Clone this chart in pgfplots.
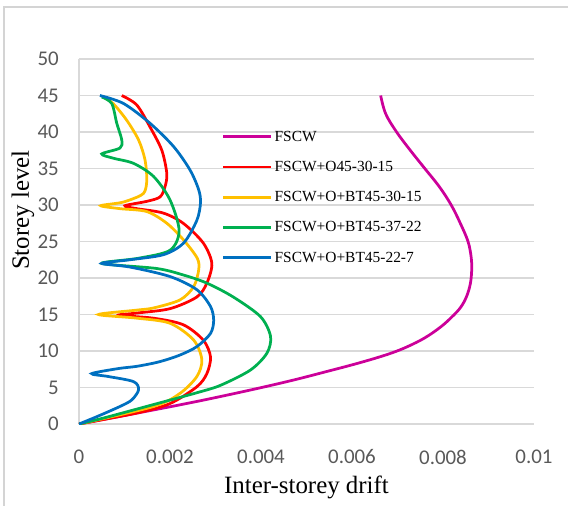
\documentclass[border=0pt]{standalone}
\usepackage{pgfplots}
\pgfplotsset{compat=1.18}
\usepackage{fontspec}
\setmainfont{Liberation Serif}
\newfontfamily\calibri{Carlito}
\definecolor{gridgray}{RGB}{217,217,217}
\definecolor{framegray}{RGB}{212,212,212}
\definecolor{tickgray}{RGB}{89,89,89}
\definecolor{cMag}{RGB}{204,0,153}
\definecolor{cRed}{RGB}{255,0,0}
\definecolor{cYel}{RGB}{255,192,0}
\definecolor{cGre}{RGB}{0,176,80}
\definecolor{cBlu}{RGB}{0,112,192}
\begin{document}
\begin{tikzpicture}
\useasboundingbox (-79bp,-82bp) rectangle (489bp,424bp);
\draw[line width=2bp, draw=framegray] (-75bp,-83bp) -- (-75bp,417bp) -- (490bp,417bp);
\begin{axis}[
  at={(0,0)}, anchor=south west,
  scale only axis, width=455bp, height=365bp,
  xmin=0, xmax=0.01, ymin=0, ymax=50,
  xtick={0,0.002,0.004,0.006,0.008,0.01},
  xticklabels={0,0.002,0.004,0.006,0.008,0.01},
  scaled x ticks=false,
  ytick={0,5,...,50},
  ymajorgrids, grid style={draw=gridgray, line width=1.2bp},
  axis x line*=bottom, axis y line*=left,
  axis line style={draw=gridgray, line width=1.2bp, -},
  major tick length=0pt,
  /pgf/number format/assume math mode=true,
  tick label style={font=\calibri\fontsize{21}{21}\selectfont, text=tickgray},
  xticklabel style={anchor=center, yshift=-33bp},
  yticklabel style={anchor=east, inner sep=0pt, xshift=-20bp},
  xlabel={Inter-storey drift}, ylabel={Storey level},
  xlabel style={font=\fontsize{25}{25}\selectfont, at={(axis description cs:0.5,-0.175)}, anchor=center},
  ylabel style={font=\fontsize{25}{25}\selectfont, at={(axis description cs:-0.123,0.586)}, anchor=center},
  legend style={at={(axis description cs:0.314,0.803)}, anchor=north west, draw=none, fill=none,
    inner sep=0pt, outer sep=0pt, font=\fontsize{15.5}{15.5}\selectfont, row sep=18.5bp,
    nodes={inner sep=0pt}},
  legend cell align=left,
  legend image code/.code={\draw[#1] (0bp,0bp) -- (48bp,0bp); \path (50bp,0bp);},
  every axis plot/.append style={line width=2.75bp, smooth, tension=0.5},
]
% FSCW
\addplot[cMag, tension=0.6] coordinates {
(0,0) (0.00128,1.5) (0.00256,3.05) (0.00377,4.66) (0.00470,6.0) (0.00545,7.2)
(0.00600,8.1) (0.00648,8.95) (0.00688,9.75) (0.00722,10.6) (0.00760,11.8)
(0.00795,13.3) (0.00820,14.7) (0.00839,16.0) (0.00852,17.5) (0.00860,19.2)
(0.00863,21.0) (0.00862,22.8) (0.00855,25.0) (0.00838,27.5) (0.00818,30.0)
(0.00792,32.5) (0.00760,35.0) (0.00728,37.5) (0.00698,40.0) (0.00674,42.5)
(0.00663,45.0)};
% FSCW+O45-30-15
\addplot[cRed] coordinates {
(0,0) (0.00127,1.5) (0.00200,2.8) (0.00259,5.1) (0.00281,6.9) (0.00289,9.2)
(0.00273,11.5) (0.00229,13.6) (0.00163,14.5) (0.00087,14.9) (0.00127,15.2)
(0.00200,15.8) (0.00259,17.4) (0.00281,19.3) (0.00292,22.0) (0.00273,24.8)
(0.00229,27.5) (0.00185,28.9) (0.00127,29.5) (0.00101,29.9) (0.00149,30.5)
(0.00178,31.1) (0.00189,32.5) (0.00193,34.3) (0.00182,37.5) (0.00156,40.7)
(0.00127,43.7) (0.00094,45.0)};
% FSCW+O+BT45-30-15
\addplot[cYel] coordinates {
(0,0) (0.00164,2.4) (0.00222,4.2) (0.00259,6.5) (0.00270,8.8) (0.00252,11.5)
(0.00200,13.8) (0.00127,14.5) (0.00043,15.0) (0.00127,15.6) (0.00164,15.9)
(0.00222,17.0) (0.00252,18.8) (0.00263,21.1) (0.00260,22.7) (0.00230,25.2)
(0.00193,27.5) (0.00149,29.1) (0.00090,29.5) (0.00048,29.9) (0.00090,30.3)
(0.00112,30.7) (0.00142,31.6) (0.00149,33.4) (0.00145,36.2) (0.00131,38.9)
(0.00105,41.6) (0.00075,43.9) (0.00053,44.8)};
% FSCW+O+BT45-37-22
\addplot[cGre] coordinates {
(0,0) (0.00053,0.8) (0.00160,2.6) (0.00260,4.3) (0.00311,5.3) (0.00377,7.4)
(0.00413,9.7) (0.00421,12.0) (0.00399,14.7) (0.00339,17.4) (0.00281,19.3)
(0.00230,20.4) (0.00171,21.3) (0.00050,22.0) (0.00130,22.7) (0.00200,23.8)
(0.00220,26.5) (0.00200,30.7) (0.00164,33.9) (0.00120,35.7) (0.00076,36.4)
(0.00050,37.0) (0.00090,37.8) (0.00094,38.9) (0.00083,41.2) (0.00072,43.9)
(0.00050,44.8)};
% FSCW+O+BT45-22-7
\addplot[cBlu] coordinates {
(0,0) (0.00039,1.0) (0.00090,2.4) (0.00116,3.3) (0.00131,4.7) (0.00120,5.8)
(0.00065,6.5) (0.00028,6.9) (0.00087,7.6) (0.00127,7.9) (0.00175,8.5)
(0.00220,9.4) (0.00259,10.6) (0.00289,12.4) (0.00296,14.2) (0.00289,16.1)
(0.00259,18.4) (0.00200,20.2) (0.00112,21.5) (0.00050,22.0) (0.00112,22.5)
(0.00186,23.2) (0.00230,24.8) (0.00259,27.9) (0.00267,30.3) (0.00263,32.1)
(0.00244,34.8) (0.00208,38.0) (0.00156,41.2) (0.00098,43.9) (0.00046,45.0)};
\legend{FSCW, FSCW+O45-30-15, FSCW+O+BT45-30-15, FSCW+O+BT45-37-22, FSCW+O+BT45-22-7}
\end{axis}
\end{tikzpicture}
\end{document}
